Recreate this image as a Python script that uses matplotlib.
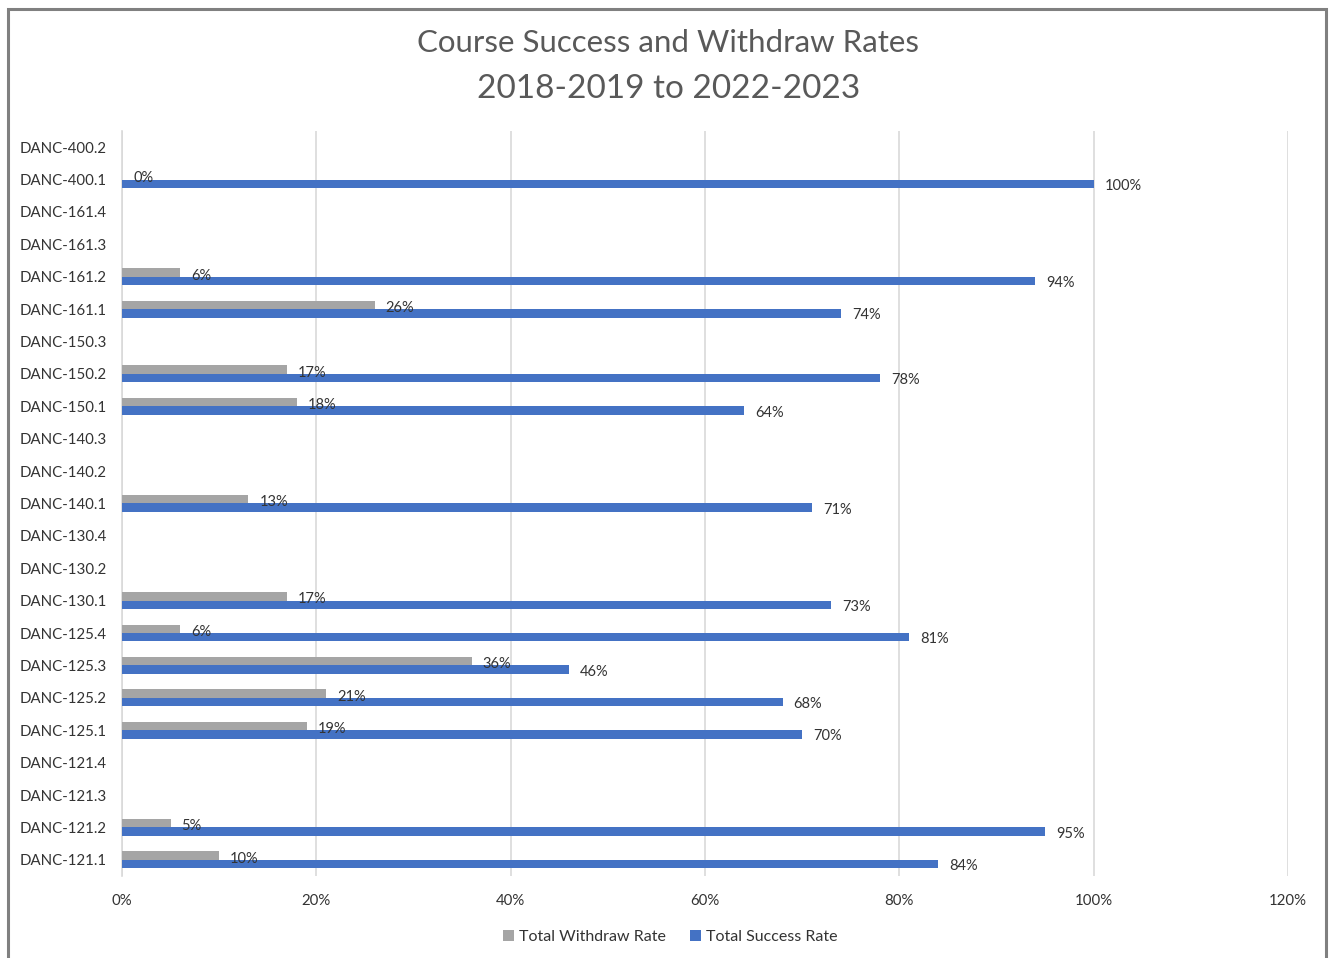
import matplotlib.pyplot as plt
import numpy as np
from matplotlib.patches import Rectangle

# course sections, bottom row first
courses = ['DANC-121.1', 'DANC-121.2', 'DANC-121.3', 'DANC-121.4',
           'DANC-125.1', 'DANC-125.2', 'DANC-125.3', 'DANC-125.4',
           'DANC-130.1', 'DANC-130.2', 'DANC-130.4',
           'DANC-140.1', 'DANC-140.2', 'DANC-140.3',
           'DANC-150.1', 'DANC-150.2', 'DANC-150.3',
           'DANC-161.1', 'DANC-161.2', 'DANC-161.3', 'DANC-161.4',
           'DANC-400.1', 'DANC-400.2']
nan = np.nan
withdraw = [10, 5, nan, nan, 19, 21, 36, 6, 17, nan, nan, 13, nan, nan,
            18, 17, nan, 26, 6, nan, nan, 0, nan]
success = [84, 95, nan, nan, 70, 68, 46, 81, 73, nan, nan, 71, nan, nan,
           64, 78, nan, 74, 94, nan, nan, 100, nan]
xticks = [0, 20, 40, 60, 80, 100, 120]

plt.rcParams['font.family'] = ['Lato', 'DejaVu Sans']
txt = '#333333'

fig = plt.figure(figsize=(13.29, 9.58), dpi=100)
ax = fig.add_axes([0.0918, 0.0856, 0.8773, 0.7777])

# outer chart border
fig.patches.append(Rectangle((0.0060, -0.05), 0.9915, 1.041, transform=fig.transFigure,
                             fill=False, edgecolor='#808080', linewidth=2.2))

y = np.arange(len(courses))
h = 0.26
gray = '#A5A5A5'
blue = '#4472C4'
ax.barh(y + h / 2, withdraw, height=h, color=gray, label='Total Withdraw Rate', zorder=3)
ax.barh(y - h / 2, success, height=h, color=blue, label='Total Success Rate', zorder=3)

for yi, w, s in zip(y, withdraw, success):
    if not np.isnan(w):
        ax.annotate(f'{w:.0f}%', (w, yi + h / 2), xytext=(11, -3), textcoords='offset pixels',
                    ha='left', va='center', fontsize=10.5, color=txt)
    if not np.isnan(s):
        ax.annotate(f'{s:.0f}%', (s, yi - h / 2), xytext=(11, -2), textcoords='offset pixels',
                    ha='left', va='center', fontsize=10.5, color=txt)

ax.set_ylim(-0.5, len(courses) - 0.5)
ax.set_xlim(0, 120)
ax.set_yticks(y)
ax.set_yticklabels(courses, fontsize=10.8, color=txt)
ax.set_xticks(xticks)
ax.set_xticklabels([f'{t}%' for t in xticks], fontsize=10.8, color=txt)
ax.tick_params(axis='both', length=0)
ax.tick_params(axis='y', pad=11)
ax.tick_params(axis='x', pad=13)
ax.grid(axis='x', color='#d9d9d9', linewidth=1.2, zorder=0)
for side in ['top', 'right', 'bottom']:
    ax.spines[side].set_visible(False)
ax.spines['left'].set_color('#d9d9d9')
ax.spines['left'].set_linewidth(1.2)

fig.text(0.503, 1 - 43 / 958, 'Course Success and Withdraw Rates', ha='center', va='center',
         fontsize=22.5, color='#595959')
fig.text(0.503, 1 - 89 / 958, '2018-2019 to 2022-2023', ha='center', va='center',
         fontsize=24, color='#595959')

fig.legend(loc='center', bbox_to_anchor=(670 / 1329, 1 - 937 / 958), ncol=2, frameon=False,
           fontsize=11.5, handlelength=0.7, handleheight=0.7, handletextpad=0.3,
           columnspacing=1.5, labelcolor=txt)

fig.savefig('out.png', dpi=100)
